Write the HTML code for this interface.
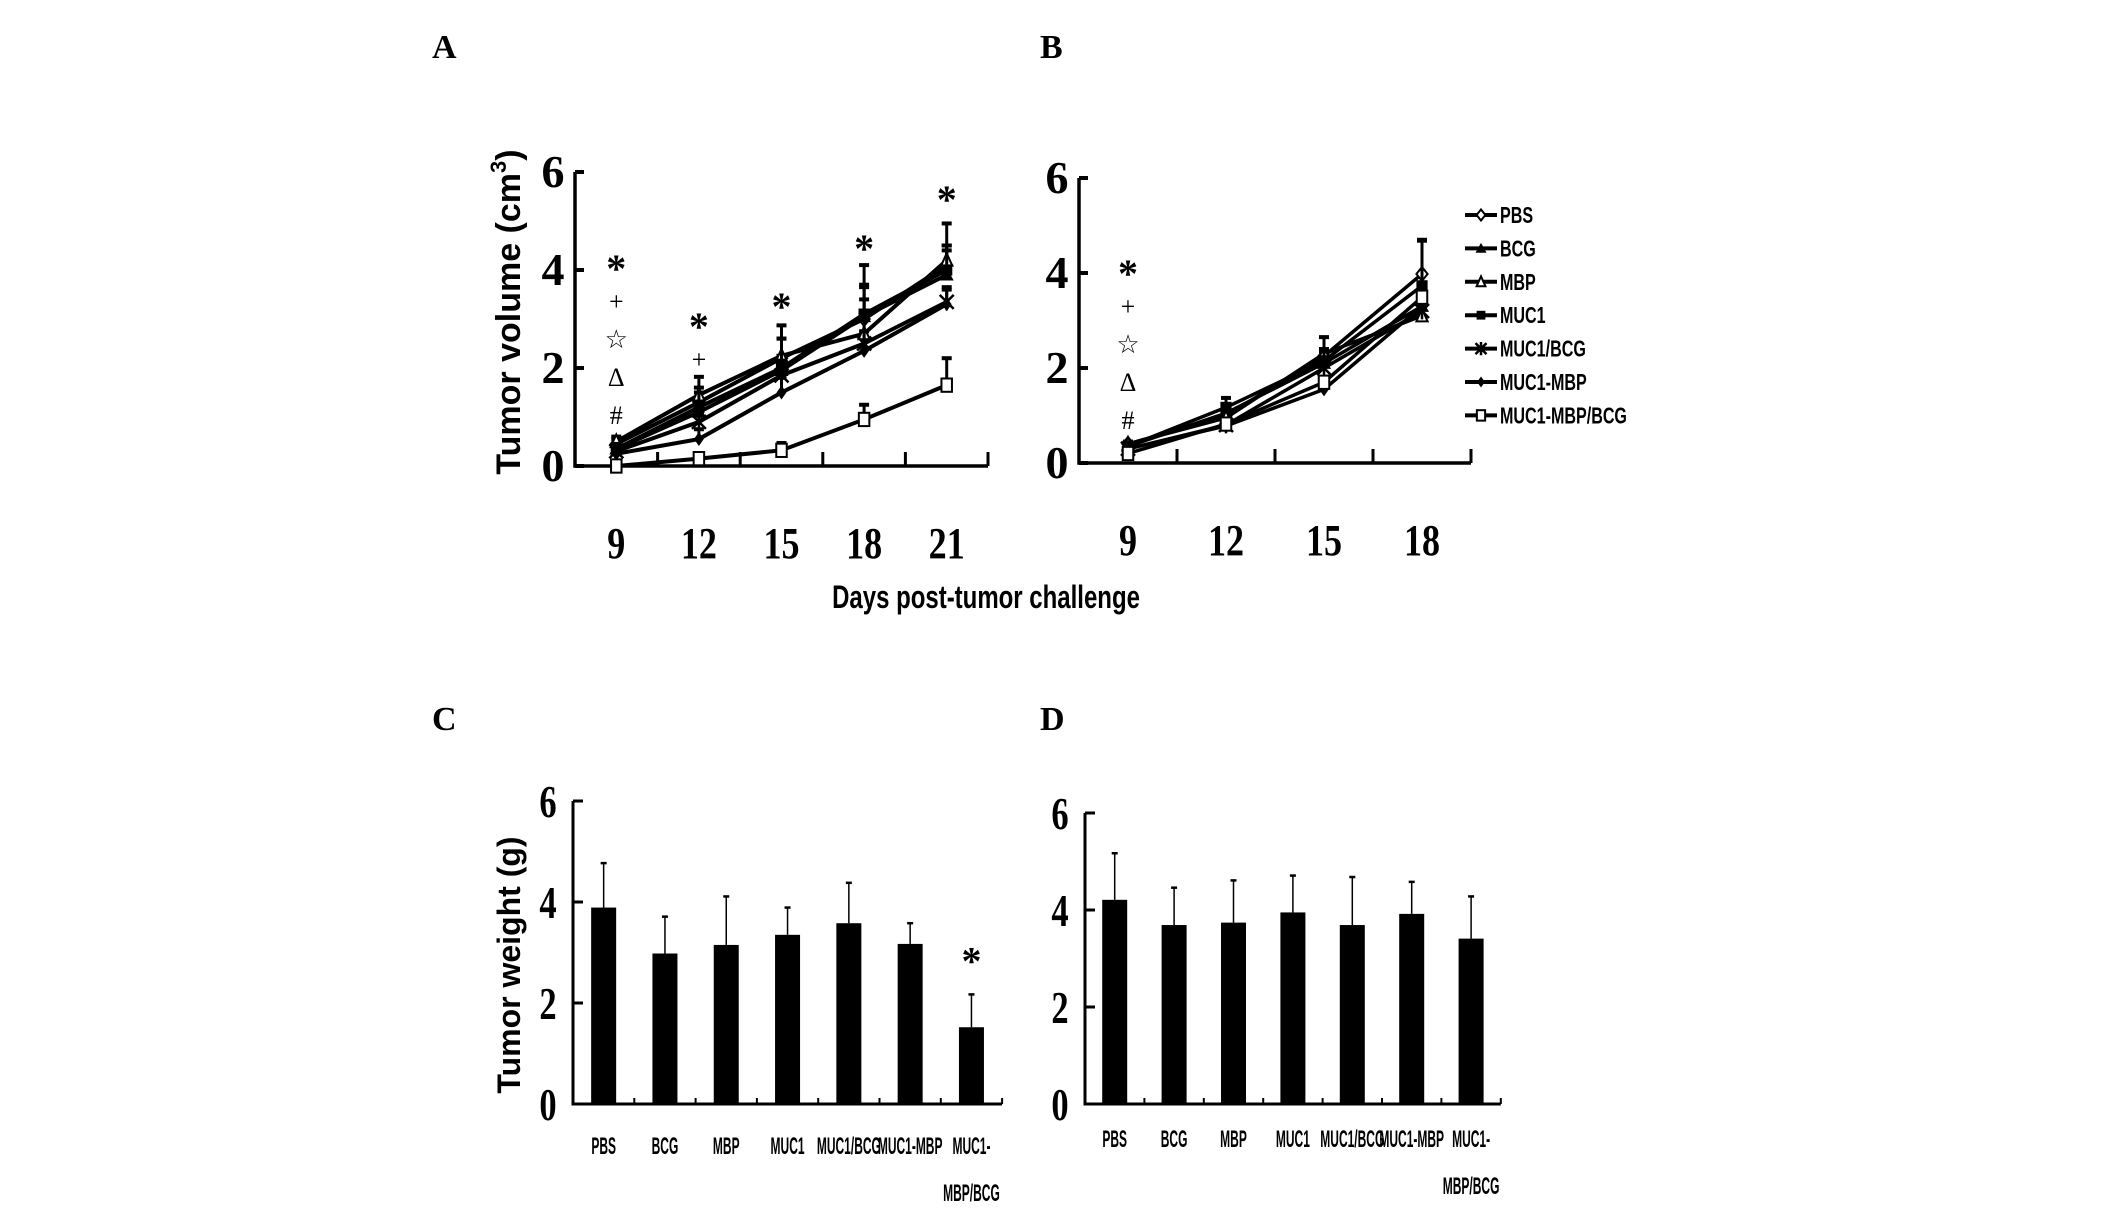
<!DOCTYPE html>
<html><head><meta charset="utf-8"><style>
html,body{margin:0;padding:0;background:#fff;}
svg{display:block;}
.lbl{font-family:"Liberation Serif",serif;font-weight:bold;}
.sans{font-family:"Liberation Sans",sans-serif;font-weight:bold;}
</style></head><body>
<svg id="fig" width="2126" height="1215" viewBox="0 0 2126 1215" xmlns="http://www.w3.org/2000/svg">
<text class="lbl" x="432" y="58" font-size="34">A</text>
<text class="lbl" x="1040" y="58" font-size="34">B</text>
<text class="lbl" x="432" y="730" font-size="34">C</text>
<text class="lbl" x="1040" y="730" font-size="34">D</text>
<text class="sans" font-size="34" transform="translate(520,312) rotate(-90)" text-anchor="middle">Tumor volume (cm<tspan font-size="22" dy="-14">3</tspan><tspan dy="14">)</tspan></text>
<text class="sans" font-size="32" transform="translate(986,608) scale(0.75,1)" text-anchor="middle">Days post-tumor challenge</text>
<text class="sans" font-size="32" transform="translate(520,965) rotate(-90)" text-anchor="middle">Tumor weight (g)</text>
<g id="layer"></g>
</svg>
<script>
const seriesNames = ["PBS","BCG","MBP","MUC1","MUC1/BCG","MUC1-MBP","MUC1-MBP/BCG"];
const daysA = ["9","12","15","18","21"];
const daysB = ["9","12","15","18"];
const yTicks = [0,2,4,6];
const aPBS = [0.45,1.3,2.2,3.0,4.1];
const aBCG = [0.35,1.1,1.95,3.05,3.9];
const aMBP = [0.5,1.45,2.25,2.7,4.2];
const aMUC1 = [0.35,1.2,2.0,3.1,4.0];
const aMUC1BCG = [0.3,0.9,1.85,2.5,3.35];
const aMUC1MBP = [0.25,0.55,1.5,2.35,3.3];
const aTriple = [0.0,0.15,0.32,0.95,1.65];
const eA = [[0.1,0.3,0.4,0.7,0.4],[0.1,0.2,0.3,0.6,0.5],[0.1,0.37,0.62,0.7,0.3],[0.1,0.3,0.6,1.0,0.95],[0.1,0.2,0.3,0.5,0.3],[0.1,0.2,0.3,0.4,0.3],[0.05,0.1,0.15,0.3,0.55]];
const bPBS = [0.4,1.0,2.25,3.98];
const bBCG = [0.35,1.05,2.1,3.3];
const bMBP = [0.4,0.95,2.3,3.1];
const bMUC1 = [0.35,1.17,2.15,3.73];
const bMUC1BCG = [0.3,0.8,2.0,3.2];
const bMUC1MBP = [0.3,0.78,1.55,3.3];
const bTriple = [0.2,0.82,1.7,3.49];
const eB = [[0.05,0.1,0.15,0.72],[0.05,0.1,0.1,0.3],[0.05,0.1,0.35,0.3],[0.05,0.2,0.2,0.95],[0.05,0.1,0.1,0.3],[0.05,0.1,0.1,0.3],[0.05,0.1,0.1,0.3]];
const groups = ["PBS","BCG","MBP","MUC1","MUC1/BCG","MUC1-MBP","MUC1-|MBP/BCG"];
const cWeight = [3.89,2.98,3.15,3.35,3.58,3.17,1.52];
const cErr = [0.88,0.73,0.96,0.54,0.8,0.41,0.65];
const dWeight = [4.21,3.69,3.74,3.95,3.69,3.92,3.41];
const dErr = [0.96,0.77,0.87,0.76,0.99,0.66,0.87];
const sigA = [["*","+","☆","Δ","#"],["*","+"],["*"],["*"],["*"]];
const sigB = [["*","+","☆","Δ","#"]];

const NS="http://www.w3.org/2000/svg";
const layer=document.getElementById('layer');
function mk(tag,attrs,parent){const e=document.createElementNS(NS,tag);for(const k in attrs)e.setAttribute(k,attrs[k]);(parent||layer).appendChild(e);return e;}

function marker(type,cx,cy,s,g){
  let e;
  if(type===0){e=mk('polygon',{points:`${cx},${cy-s} ${cx+s*0.8},${cy} ${cx},${cy+s} ${cx-s*0.8},${cy}`,fill:'#fff',stroke:'#000','stroke-width':2},g);}
  else if(type===1){e=mk('polygon',{points:`${cx},${cy-s} ${cx+s},${cy+s*0.8} ${cx-s},${cy+s*0.8}`,fill:'#000'},g);}
  else if(type===2){e=mk('polygon',{points:`${cx},${cy-s} ${cx+s*0.8},${cy+s*0.8} ${cx-s*0.8},${cy+s*0.8}`,fill:'#fff',stroke:'#000','stroke-width':2},g);}
  else if(type===3){e=mk('rect',{x:cx-s*0.8,y:cy-s*0.8,width:s*1.6,height:s*1.6,fill:'#000'},g);}
  else if(type===4){e=mk('path',{d:`M${cx-s},${cy-s}L${cx+s},${cy+s}M${cx+s},${cy-s}L${cx-s},${cy+s}M${cx},${cy-s*1.2}L${cx},${cy+s*1.2}`,stroke:'#000','stroke-width':2.5},g);}
  else if(type===5){e=mk('polygon',{points:`${cx},${cy-s} ${cx+s*0.7},${cy} ${cx},${cy+s} ${cx-s*0.7},${cy}`,fill:'#000'},g);}
  else {e=mk('rect',{x:cx-s*0.75,y:cy-s*0.95,width:s*1.5,height:s*1.9,fill:'#fff',stroke:'#000','stroke-width':2},g);}
  return e;
}

function linePanel(opt){
  const g=mk('g',{});
  
  
  const x=i=>opt.x0+opt.band*(i+0.5);
  const y=v=>opt.y0-v*opt.k;
  const xEnd=opt.x0+opt.band*opt.cats.length;
  const ax=mk('path',{d:`M${opt.x0},${y(6)}L${opt.x0},${opt.y0}L${xEnd},${opt.y0}`,fill:'none',stroke:'#000','stroke-width':3.5},g);
  
  
  yTicks.forEach(t=>{
    mk('line',{x1:opt.x0,x2:opt.x0+9,y1:y(t),y2:y(t),stroke:'#000','stroke-width':4},g);
    const tx=mk('text',{x:opt.x0-22,y:y(t)+15,'font-size':46,'text-anchor':'middle',class:'lbl'},g);
    tx.textContent=t;
    
    
  });
  opt.cats.forEach((c,i)=>{
    const bx=opt.x0+opt.band*(i+1);
    mk('line',{x1:bx,x2:bx,y1:opt.y0,y2:opt.y0-14,stroke:'#000','stroke-width':3},g);
    const tx=mk('text',{x:0,y:0,'font-size':44,'text-anchor':'middle',class:'lbl',transform:`translate(${x(i)},${opt.y0+92}) scale(0.82,1)`},g);
    tx.textContent=c;
    
    
  });
  opt.series.forEach((vals,si)=>{
    const sg=mk('g',{},g);
    
    
    vals.forEach((v,i)=>{
      const e=opt.errs[si][i];
      mk('line',{x1:x(i),x2:x(i),y1:y(v),y2:y(v+e),stroke:'#000','stroke-width':3},sg);
      mk('line',{x1:x(i)-5,x2:x(i)+5,y1:y(v+e),y2:y(v+e),stroke:'#000','stroke-width':4},sg);
    });
    const pts=vals.map((v,i)=>x(i)+','+y(v)).join(' ');
    const pl=mk('polyline',{points:pts,fill:'none',stroke:'#000','stroke-width':opt.lw},sg);
    
    
    vals.forEach((v,i)=>{
      const m=marker(si,x(i),y(v),opt.ms,sg);
      
      
    });
  });
  opt.sig.forEach((col,i)=>{
    col.forEach((s,j)=>{
      const yy=opt.sigY[i]+j*opt.sigStep;
      const big=s==='*';
      const tx=mk('text',{x:x(i),y:yy+(big?20:10),'font-size':big?40:26,'text-anchor':'middle',class:big?'lbl':'',"font-family":'"Liberation Serif","DejaVu Sans",serif'},g);
      tx.textContent=s;
      
      
    });
  });
}

linePanel({name:'chart-a',x0:575,band:82.6,y0:466,k:49,cats:daysA,series:[aPBS,aBCG,aMBP,aMUC1,aMUC1BCG,aMUC1MBP,aTriple],errs:eA,lw:4,ms:7,sig:sigA,sigY:[262,320,300,242,193],sigStep:38});
linePanel({name:'chart-b',x0:1079,band:98,y0:463,k:47.5,cats:daysB,series:[bPBS,bBCG,bMBP,bMUC1,bMUC1BCG,bMUC1MBP,bTriple],errs:eB,lw:3.5,ms:7,sig:sigB,sigY:[267],sigStep:38});

// legend
const lg=mk('g',{});


seriesNames.forEach((n,i)=>{
  const yy=215+i*33.4;
  const en=mk('g',{},lg);
  
  
  mk('line',{x1:1465,x2:1497,y1:yy,y2:yy,stroke:'#000','stroke-width':4},en);
  marker(i,1481,yy,5.5,en);
  const t=mk('text',{x:0,y:0,'font-size':23,class:'sans',transform:`translate(1500,${yy+8}) scale(0.7,1)`},en);
  t.textContent=n;
});

function barPanel(opt){
  const g=mk('g',{});
  
  
  const x=i=>opt.x0+opt.band*(i+0.5);
  const y=v=>opt.y0-v*opt.k;
  const xEnd=opt.x0+opt.band*groups.length;
  const ax=mk('path',{d:`M${opt.x0},${y(6)}L${opt.x0},${opt.y0}L${xEnd},${opt.y0}`,fill:'none',stroke:'#000','stroke-width':3},g);
  
  
  yTicks.forEach(t=>{
    mk('line',{x1:opt.x0,x2:opt.x0+10,y1:y(t),y2:y(t),stroke:'#000','stroke-width':3},g);
    const tx=mk('text',{x:0,y:0,'font-size':46,'text-anchor':'middle',class:'lbl',transform:`translate(${opt.x0-25},${y(t)+16}) scale(0.75,1)`},g);
    tx.textContent=t;
    
    
  });
  groups.forEach((c,i)=>{
    const bx=opt.x0+opt.band*(i+1);
    mk('line',{x1:bx,x2:bx,y1:opt.y0,y2:opt.y0-6,stroke:'#000','stroke-width':2},g);
    const v=opt.vals[i],e=opt.errs[i];
    mk('line',{x1:x(i),x2:x(i),y1:y(v),y2:y(v+e),stroke:'#000','stroke-width':1.5},g);
    mk('line',{x1:x(i)-3,x2:x(i)+3,y1:y(v+e),y2:y(v+e),stroke:'#000','stroke-width':2.5},g);
    const r=mk('rect',{x:x(i)-12.5,y:y(v),width:25,height:opt.y0-y(v),fill:'#000'},g);
    
    
    c.split('|').forEach((part,j)=>{
      const tx=mk('text',{x:0,y:0,'font-size':24,'text-anchor':'middle',class:'sans',transform:`translate(${x(i)},${opt.labY+j*47}) scale(0.5,1)`},g);
      tx.textContent=part;
      
      
    });
  });
  if(opt.star!=null){
    const i=opt.star;
    const tx=mk('text',{x:x(i),y:y(opt.vals[i]+opt.errs[i])-20,'font-size':40,'text-anchor':'middle',class:'lbl'},g);
    tx.textContent='*';
    
    
  }
}
barPanel({name:'chart-c',x0:573,band:61.3,y0:1104,k:50.5,vals:cWeight,errs:cErr,labY:1154,star:6});
barPanel({name:'chart-d',x0:1085,band:59.4,y0:1104,k:48.5,vals:dWeight,errs:dErr,labY:1147,star:null});
</script>
</body></html>
